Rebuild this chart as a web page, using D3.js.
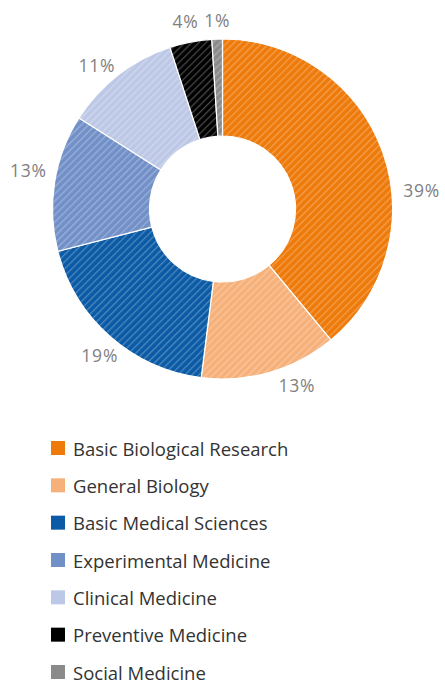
<!DOCTYPE html>
<html><head><meta charset="utf-8">
<script src="https://cdn.jsdelivr.net/npm/d3@7"></script>
<style>body{margin:0;background:#fff}svg{display:block}</style>
</head><body>
<script>
const categories = ["Basic Biological Research","General Biology","Basic Medical Sciences","Experimental Medicine","Clinical Medicine","Preventive Medicine","Social Medicine"];
const values = [39,13,19,13,11,4,1];
const labels = ["39%","13%","19%","13%","11%","4%","1%"];
const colors = ["#EE7A0A","#F6B079","#0A5AA5","#7290C8","#BCC8E6","#000000","#8A8A8A"];

const W=445,H=684, cx=222.5, cy=209, R=170, r0=73;
const svg=d3.select("body").append("svg").attr("width",W).attr("height",H);
const defs=svg.append("defs");
colors.forEach((c,i)=>{
  const p=defs.append("pattern").attr("id","p"+i).attr("patternUnits","userSpaceOnUse")
    .attr("width",5).attr("height",5).attr("patternTransform","rotate(45)");
  p.append("rect").attr("width",5).attr("height",5).attr("fill",c);
  p.append("rect").attr("x",0).attr("width",1.3).attr("height",5).attr("fill","#fff").attr("fill-opacity",0.28);
});
const pie=d3.pie().sort(null).value(d=>d)(values);
const arc=d3.arc().innerRadius(r0).outerRadius(R);
const g=svg.append("g").attr("transform",`translate(${cx},${cy})`);
g.selectAll("path").data(pie).join("path").attr("d",arc)
  .attr("fill",(d,i)=>`url(#p${i})`).attr("stroke","#fff").attr("stroke-width",1.2);

// label placement: mid-angle of each slice, nudged as in the reference layout
const nudgeDeg=[14.4,-6.7,-1.4,2.3,-3.3,-0.3,0.2];
const labelR=[200,191,191,198,191,192,189];
const la=(d,i)=>(d.startAngle+d.endAngle)/2+nudgeDeg[i]*Math.PI/180;
g.selectAll("text.lbl").data(pie).join("text").attr("class","lbl")
  .attr("x",(d,i)=>Math.sin(la(d,i))*labelR[i])
  .attr("y",(d,i)=>-Math.cos(la(d,i))*labelR[i])
  .attr("text-anchor","middle").attr("dominant-baseline","central")
  .attr("font-family","Open Sans, sans-serif").attr("font-size",17.5).attr("letter-spacing",0.8)
  .attr("fill","#7f7f7f")
  .text((d,i)=>labels[i]);

const leg=svg.append("g");
const y=d3.scalePoint().domain(categories).range([448,672]);
const rows=leg.selectAll("g").data(categories).join("g").attr("transform",d=>`translate(0,${y(d)})`);
rows.append("rect").attr("x",51).attr("y",-7).attr("width",14).attr("height",14).attr("fill",(d,i)=>colors[i]);
rows.append("text").attr("x",73).attr("y",0).attr("dominant-baseline","central")
  .attr("font-family","Open Sans, sans-serif").attr("font-size",18.5).attr("fill","#333").text(d=>d);
</script>
</body></html>
